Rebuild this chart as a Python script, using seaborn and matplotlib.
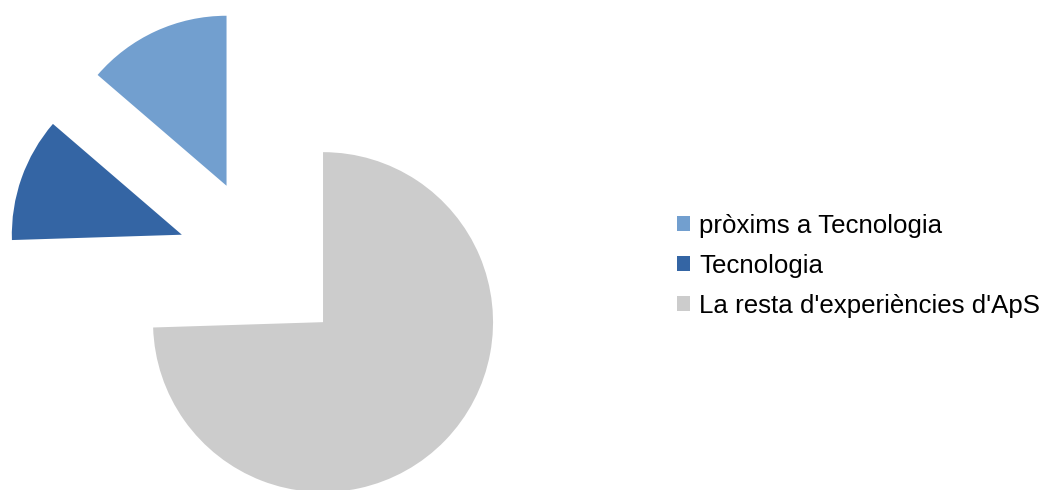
import matplotlib
matplotlib.use("Agg")
import matplotlib.pyplot as plt
import seaborn as sns

# valors aproximats llegits del gràfic (percentatges)
labels = ["pròxims a Tecnologia", "Tecnologia", "La resta d'experiències d'ApS"]
values = [13.7, 11.8, 74.5]
colors = ["#729fcf", "#3465a4", "#cccccc"]

sns.set_theme(style="white")
plt.rcParams['font.family'] = ['Liberation Sans', 'DejaVu Sans']

fig = plt.figure(figsize=(10.44, 4.9), dpi=100)
ax = fig.add_axes([0, 0, 1, 1])

wedges, _ = ax.pie(values, colors=colors, startangle=90, counterclock=True,
                   explode=[0.5, 0.5, 0.5], wedgeprops=dict(linewidth=0))

# 1 unitat = 170 px, centre a (262, 263) px
scale = 170.0
cx, cy = 262.0, 490 - 263.0
ax.set_xlim(-cx / scale, (1044 - cx) / scale)
ax.set_ylim(-cy / scale, (490 - cy) / scale)
ax.set_aspect("auto")
ax.axis("off")

fig.legend(wedges, labels, loc="center left", bbox_to_anchor=(677 / 1044, 224 / 490),
           frameon=False, fontsize=18.6, labelcolor="black", borderpad=0, borderaxespad=0,
           handlelength=0.5, handleheight=0.5, handletextpad=0.35, labelspacing=0.62)

fig.savefig("out.png", dpi=100)
